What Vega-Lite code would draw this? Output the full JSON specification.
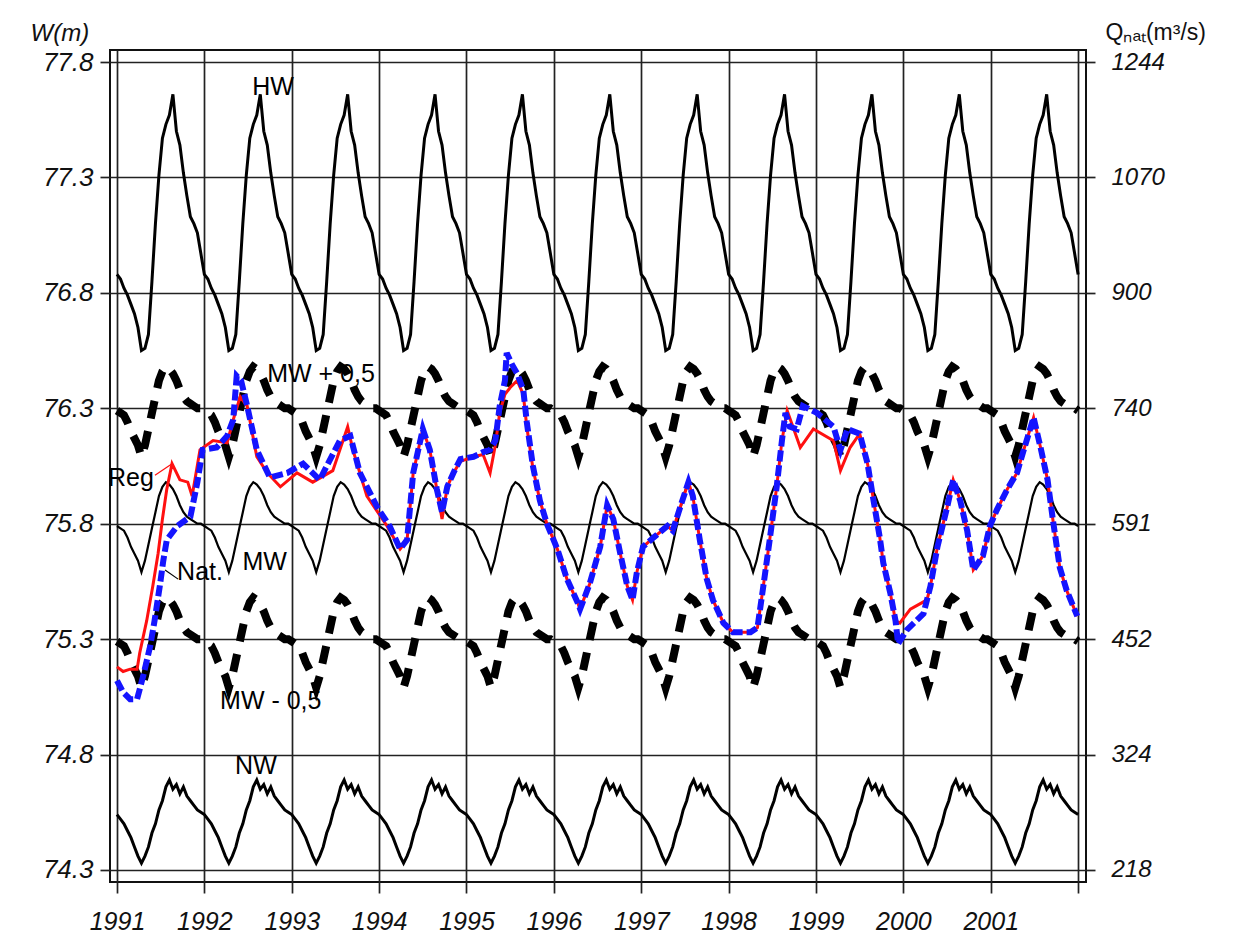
{
"$schema": "https://vega.github.io/schema/vega-lite/v6.json",
"width": 976, "height": 832,
"autosize": {"type": "none"},
"padding": {"left": 110, "top": 50, "right": 165, "bottom": 65},
"background": "white",
"config": {"view": {"stroke": "#111", "strokeWidth": 2}, "font": "Liberation Sans"},
"datasets": {
"per": [
{"t":1991,"HW":76.88,"MW":75.79,"NW":74.54,"MWp":76.29,"MWm":75.29},
{"t":1991.04,"HW":76.86,"MW":75.78,"NW":74.52,"MWp":76.28,"MWm":75.28},
{"t":1991.08,"HW":76.82,"MW":75.77,"NW":74.5,"MWp":76.27,"MWm":75.27},
{"t":1991.12,"HW":76.79,"MW":75.74,"NW":74.47,"MWp":76.24,"MWm":75.24},
{"t":1991.16,"HW":76.75,"MW":75.7,"NW":74.44,"MWp":76.2,"MWm":75.2},
{"t":1991.2,"HW":76.71,"MW":75.67,"NW":74.4,"MWp":76.17,"MWm":75.17},
{"t":1991.24,"HW":76.65,"MW":75.64,"NW":74.36,"MWp":76.14,"MWm":75.14},
{"t":1991.28,"HW":76.55,"MW":75.59,"NW":74.33,"MWp":76.09,"MWm":75.09},
{"t":1991.32,"HW":76.56,"MW":75.64,"NW":74.36,"MWp":76.14,"MWm":75.14},
{"t":1991.36,"HW":76.62,"MW":75.71,"NW":74.4,"MWp":76.21,"MWm":75.21},
{"t":1991.4,"HW":76.85,"MW":75.78,"NW":74.46,"MWp":76.28,"MWm":75.28},
{"t":1991.44,"HW":77.1,"MW":75.85,"NW":74.5,"MWp":76.35,"MWm":75.35},
{"t":1991.48,"HW":77.31,"MW":75.92,"NW":74.56,"MWp":76.42,"MWm":75.42},
{"t":1991.52,"HW":77.47,"MW":75.96,"NW":74.6,"MWp":76.46,"MWm":75.46},
{"t":1991.56,"HW":77.53,"MW":75.98,"NW":74.66,"MWp":76.48,"MWm":75.48},
{"t":1991.6,"HW":77.57,"MW":75.97,"NW":74.69,"MWp":76.47,"MWm":75.47},
{"t":1991.64,"HW":77.66,"MW":75.95,"NW":74.65,"MWp":76.45,"MWm":75.45},
{"t":1991.68,"HW":77.5,"MW":75.92,"NW":74.67,"MWp":76.42,"MWm":75.42},
{"t":1991.72,"HW":77.44,"MW":75.88,"NW":74.63,"MWp":76.38,"MWm":75.38},
{"t":1991.76,"HW":77.32,"MW":75.85,"NW":74.66,"MWp":76.35,"MWm":75.35},
{"t":1991.8,"HW":77.22,"MW":75.83,"NW":74.62,"MWp":76.33,"MWm":75.33},
{"t":1991.84,"HW":77.13,"MW":75.82,"NW":74.6,"MWp":76.32,"MWm":75.32},
{"t":1991.88,"HW":77.1,"MW":75.81,"NW":74.58,"MWp":76.31,"MWm":75.31},
{"t":1991.92,"HW":77.06,"MW":75.8,"NW":74.56,"MWp":76.3,"MWm":75.3},
{"t":1991.96,"HW":76.97,"MW":75.8,"NW":74.55,"MWp":76.3,"MWm":75.3},
{"t":1992,"HW":76.88,"MW":75.79,"NW":74.54,"MWp":76.29,"MWm":75.29},
{"t":1992.04,"HW":76.86,"MW":75.78,"NW":74.52,"MWp":76.28,"MWm":75.28},
{"t":1992.08,"HW":76.82,"MW":75.77,"NW":74.5,"MWp":76.27,"MWm":75.27},
{"t":1992.12,"HW":76.79,"MW":75.74,"NW":74.47,"MWp":76.24,"MWm":75.24},
{"t":1992.16,"HW":76.75,"MW":75.7,"NW":74.44,"MWp":76.2,"MWm":75.2},
{"t":1992.2,"HW":76.71,"MW":75.67,"NW":74.4,"MWp":76.17,"MWm":75.17},
{"t":1992.24,"HW":76.65,"MW":75.64,"NW":74.36,"MWp":76.14,"MWm":75.14},
{"t":1992.28,"HW":76.55,"MW":75.59,"NW":74.33,"MWp":76.09,"MWm":75.09},
{"t":1992.32,"HW":76.56,"MW":75.64,"NW":74.36,"MWp":76.14,"MWm":75.14},
{"t":1992.36,"HW":76.62,"MW":75.71,"NW":74.4,"MWp":76.21,"MWm":75.21},
{"t":1992.4,"HW":76.85,"MW":75.78,"NW":74.46,"MWp":76.28,"MWm":75.28},
{"t":1992.44,"HW":77.1,"MW":75.85,"NW":74.5,"MWp":76.35,"MWm":75.35},
{"t":1992.48,"HW":77.31,"MW":75.92,"NW":74.56,"MWp":76.42,"MWm":75.42},
{"t":1992.52,"HW":77.47,"MW":75.96,"NW":74.6,"MWp":76.46,"MWm":75.46},
{"t":1992.56,"HW":77.53,"MW":75.98,"NW":74.66,"MWp":76.48,"MWm":75.48},
{"t":1992.6,"HW":77.57,"MW":75.97,"NW":74.69,"MWp":76.47,"MWm":75.47},
{"t":1992.64,"HW":77.66,"MW":75.95,"NW":74.65,"MWp":76.45,"MWm":75.45},
{"t":1992.68,"HW":77.5,"MW":75.92,"NW":74.67,"MWp":76.42,"MWm":75.42},
{"t":1992.72,"HW":77.44,"MW":75.88,"NW":74.63,"MWp":76.38,"MWm":75.38},
{"t":1992.76,"HW":77.32,"MW":75.85,"NW":74.66,"MWp":76.35,"MWm":75.35},
{"t":1992.8,"HW":77.22,"MW":75.83,"NW":74.62,"MWp":76.33,"MWm":75.33},
{"t":1992.84,"HW":77.13,"MW":75.82,"NW":74.6,"MWp":76.32,"MWm":75.32},
{"t":1992.88,"HW":77.1,"MW":75.81,"NW":74.58,"MWp":76.31,"MWm":75.31},
{"t":1992.92,"HW":77.06,"MW":75.8,"NW":74.56,"MWp":76.3,"MWm":75.3},
{"t":1992.96,"HW":76.97,"MW":75.8,"NW":74.55,"MWp":76.3,"MWm":75.3},
{"t":1993,"HW":76.88,"MW":75.79,"NW":74.54,"MWp":76.29,"MWm":75.29},
{"t":1993.04,"HW":76.86,"MW":75.78,"NW":74.52,"MWp":76.28,"MWm":75.28},
{"t":1993.08,"HW":76.82,"MW":75.77,"NW":74.5,"MWp":76.27,"MWm":75.27},
{"t":1993.12,"HW":76.79,"MW":75.74,"NW":74.47,"MWp":76.24,"MWm":75.24},
{"t":1993.16,"HW":76.75,"MW":75.7,"NW":74.44,"MWp":76.2,"MWm":75.2},
{"t":1993.2,"HW":76.71,"MW":75.67,"NW":74.4,"MWp":76.17,"MWm":75.17},
{"t":1993.24,"HW":76.65,"MW":75.64,"NW":74.36,"MWp":76.14,"MWm":75.14},
{"t":1993.28,"HW":76.55,"MW":75.59,"NW":74.33,"MWp":76.09,"MWm":75.09},
{"t":1993.32,"HW":76.56,"MW":75.64,"NW":74.36,"MWp":76.14,"MWm":75.14},
{"t":1993.36,"HW":76.62,"MW":75.71,"NW":74.4,"MWp":76.21,"MWm":75.21},
{"t":1993.4,"HW":76.85,"MW":75.78,"NW":74.46,"MWp":76.28,"MWm":75.28},
{"t":1993.44,"HW":77.1,"MW":75.85,"NW":74.5,"MWp":76.35,"MWm":75.35},
{"t":1993.48,"HW":77.31,"MW":75.92,"NW":74.56,"MWp":76.42,"MWm":75.42},
{"t":1993.52,"HW":77.47,"MW":75.96,"NW":74.6,"MWp":76.46,"MWm":75.46},
{"t":1993.56,"HW":77.53,"MW":75.98,"NW":74.66,"MWp":76.48,"MWm":75.48},
{"t":1993.6,"HW":77.57,"MW":75.97,"NW":74.69,"MWp":76.47,"MWm":75.47},
{"t":1993.64,"HW":77.66,"MW":75.95,"NW":74.65,"MWp":76.45,"MWm":75.45},
{"t":1993.68,"HW":77.5,"MW":75.92,"NW":74.67,"MWp":76.42,"MWm":75.42},
{"t":1993.72,"HW":77.44,"MW":75.88,"NW":74.63,"MWp":76.38,"MWm":75.38},
{"t":1993.76,"HW":77.32,"MW":75.85,"NW":74.66,"MWp":76.35,"MWm":75.35},
{"t":1993.8,"HW":77.22,"MW":75.83,"NW":74.62,"MWp":76.33,"MWm":75.33},
{"t":1993.84,"HW":77.13,"MW":75.82,"NW":74.6,"MWp":76.32,"MWm":75.32},
{"t":1993.88,"HW":77.1,"MW":75.81,"NW":74.58,"MWp":76.31,"MWm":75.31},
{"t":1993.92,"HW":77.06,"MW":75.8,"NW":74.56,"MWp":76.3,"MWm":75.3},
{"t":1993.96,"HW":76.97,"MW":75.8,"NW":74.55,"MWp":76.3,"MWm":75.3},
{"t":1994,"HW":76.88,"MW":75.79,"NW":74.54,"MWp":76.29,"MWm":75.29},
{"t":1994.04,"HW":76.86,"MW":75.78,"NW":74.52,"MWp":76.28,"MWm":75.28},
{"t":1994.08,"HW":76.82,"MW":75.77,"NW":74.5,"MWp":76.27,"MWm":75.27},
{"t":1994.12,"HW":76.79,"MW":75.74,"NW":74.47,"MWp":76.24,"MWm":75.24},
{"t":1994.16,"HW":76.75,"MW":75.7,"NW":74.44,"MWp":76.2,"MWm":75.2},
{"t":1994.2,"HW":76.71,"MW":75.67,"NW":74.4,"MWp":76.17,"MWm":75.17},
{"t":1994.24,"HW":76.65,"MW":75.64,"NW":74.36,"MWp":76.14,"MWm":75.14},
{"t":1994.28,"HW":76.55,"MW":75.59,"NW":74.33,"MWp":76.09,"MWm":75.09},
{"t":1994.32,"HW":76.56,"MW":75.64,"NW":74.36,"MWp":76.14,"MWm":75.14},
{"t":1994.36,"HW":76.62,"MW":75.71,"NW":74.4,"MWp":76.21,"MWm":75.21},
{"t":1994.4,"HW":76.85,"MW":75.78,"NW":74.46,"MWp":76.28,"MWm":75.28},
{"t":1994.44,"HW":77.1,"MW":75.85,"NW":74.5,"MWp":76.35,"MWm":75.35},
{"t":1994.48,"HW":77.31,"MW":75.92,"NW":74.56,"MWp":76.42,"MWm":75.42},
{"t":1994.52,"HW":77.47,"MW":75.96,"NW":74.6,"MWp":76.46,"MWm":75.46},
{"t":1994.56,"HW":77.53,"MW":75.98,"NW":74.66,"MWp":76.48,"MWm":75.48},
{"t":1994.6,"HW":77.57,"MW":75.97,"NW":74.69,"MWp":76.47,"MWm":75.47},
{"t":1994.64,"HW":77.66,"MW":75.95,"NW":74.65,"MWp":76.45,"MWm":75.45},
{"t":1994.68,"HW":77.5,"MW":75.92,"NW":74.67,"MWp":76.42,"MWm":75.42},
{"t":1994.72,"HW":77.44,"MW":75.88,"NW":74.63,"MWp":76.38,"MWm":75.38},
{"t":1994.76,"HW":77.32,"MW":75.85,"NW":74.66,"MWp":76.35,"MWm":75.35},
{"t":1994.8,"HW":77.22,"MW":75.83,"NW":74.62,"MWp":76.33,"MWm":75.33},
{"t":1994.84,"HW":77.13,"MW":75.82,"NW":74.6,"MWp":76.32,"MWm":75.32},
{"t":1994.88,"HW":77.1,"MW":75.81,"NW":74.58,"MWp":76.31,"MWm":75.31},
{"t":1994.92,"HW":77.06,"MW":75.8,"NW":74.56,"MWp":76.3,"MWm":75.3},
{"t":1994.96,"HW":76.97,"MW":75.8,"NW":74.55,"MWp":76.3,"MWm":75.3},
{"t":1995,"HW":76.88,"MW":75.79,"NW":74.54,"MWp":76.29,"MWm":75.29},
{"t":1995.04,"HW":76.86,"MW":75.78,"NW":74.52,"MWp":76.28,"MWm":75.28},
{"t":1995.08,"HW":76.82,"MW":75.77,"NW":74.5,"MWp":76.27,"MWm":75.27},
{"t":1995.12,"HW":76.79,"MW":75.74,"NW":74.47,"MWp":76.24,"MWm":75.24},
{"t":1995.16,"HW":76.75,"MW":75.7,"NW":74.44,"MWp":76.2,"MWm":75.2},
{"t":1995.2,"HW":76.71,"MW":75.67,"NW":74.4,"MWp":76.17,"MWm":75.17},
{"t":1995.24,"HW":76.65,"MW":75.64,"NW":74.36,"MWp":76.14,"MWm":75.14},
{"t":1995.28,"HW":76.55,"MW":75.59,"NW":74.33,"MWp":76.09,"MWm":75.09},
{"t":1995.32,"HW":76.56,"MW":75.64,"NW":74.36,"MWp":76.14,"MWm":75.14},
{"t":1995.36,"HW":76.62,"MW":75.71,"NW":74.4,"MWp":76.21,"MWm":75.21},
{"t":1995.4,"HW":76.85,"MW":75.78,"NW":74.46,"MWp":76.28,"MWm":75.28},
{"t":1995.44,"HW":77.1,"MW":75.85,"NW":74.5,"MWp":76.35,"MWm":75.35},
{"t":1995.48,"HW":77.31,"MW":75.92,"NW":74.56,"MWp":76.42,"MWm":75.42},
{"t":1995.52,"HW":77.47,"MW":75.96,"NW":74.6,"MWp":76.46,"MWm":75.46},
{"t":1995.56,"HW":77.53,"MW":75.98,"NW":74.66,"MWp":76.48,"MWm":75.48},
{"t":1995.6,"HW":77.57,"MW":75.97,"NW":74.69,"MWp":76.47,"MWm":75.47},
{"t":1995.64,"HW":77.66,"MW":75.95,"NW":74.65,"MWp":76.45,"MWm":75.45},
{"t":1995.68,"HW":77.5,"MW":75.92,"NW":74.67,"MWp":76.42,"MWm":75.42},
{"t":1995.72,"HW":77.44,"MW":75.88,"NW":74.63,"MWp":76.38,"MWm":75.38},
{"t":1995.76,"HW":77.32,"MW":75.85,"NW":74.66,"MWp":76.35,"MWm":75.35},
{"t":1995.8,"HW":77.22,"MW":75.83,"NW":74.62,"MWp":76.33,"MWm":75.33},
{"t":1995.84,"HW":77.13,"MW":75.82,"NW":74.6,"MWp":76.32,"MWm":75.32},
{"t":1995.88,"HW":77.1,"MW":75.81,"NW":74.58,"MWp":76.31,"MWm":75.31},
{"t":1995.92,"HW":77.06,"MW":75.8,"NW":74.56,"MWp":76.3,"MWm":75.3},
{"t":1995.96,"HW":76.97,"MW":75.8,"NW":74.55,"MWp":76.3,"MWm":75.3},
{"t":1996,"HW":76.88,"MW":75.79,"NW":74.54,"MWp":76.29,"MWm":75.29},
{"t":1996.04,"HW":76.86,"MW":75.78,"NW":74.52,"MWp":76.28,"MWm":75.28},
{"t":1996.08,"HW":76.82,"MW":75.77,"NW":74.5,"MWp":76.27,"MWm":75.27},
{"t":1996.12,"HW":76.79,"MW":75.74,"NW":74.47,"MWp":76.24,"MWm":75.24},
{"t":1996.16,"HW":76.75,"MW":75.7,"NW":74.44,"MWp":76.2,"MWm":75.2},
{"t":1996.2,"HW":76.71,"MW":75.67,"NW":74.4,"MWp":76.17,"MWm":75.17},
{"t":1996.24,"HW":76.65,"MW":75.64,"NW":74.36,"MWp":76.14,"MWm":75.14},
{"t":1996.28,"HW":76.55,"MW":75.59,"NW":74.33,"MWp":76.09,"MWm":75.09},
{"t":1996.32,"HW":76.56,"MW":75.64,"NW":74.36,"MWp":76.14,"MWm":75.14},
{"t":1996.36,"HW":76.62,"MW":75.71,"NW":74.4,"MWp":76.21,"MWm":75.21},
{"t":1996.4,"HW":76.85,"MW":75.78,"NW":74.46,"MWp":76.28,"MWm":75.28},
{"t":1996.44,"HW":77.1,"MW":75.85,"NW":74.5,"MWp":76.35,"MWm":75.35},
{"t":1996.48,"HW":77.31,"MW":75.92,"NW":74.56,"MWp":76.42,"MWm":75.42},
{"t":1996.52,"HW":77.47,"MW":75.96,"NW":74.6,"MWp":76.46,"MWm":75.46},
{"t":1996.56,"HW":77.53,"MW":75.98,"NW":74.66,"MWp":76.48,"MWm":75.48},
{"t":1996.6,"HW":77.57,"MW":75.97,"NW":74.69,"MWp":76.47,"MWm":75.47},
{"t":1996.64,"HW":77.66,"MW":75.95,"NW":74.65,"MWp":76.45,"MWm":75.45},
{"t":1996.68,"HW":77.5,"MW":75.92,"NW":74.67,"MWp":76.42,"MWm":75.42},
{"t":1996.72,"HW":77.44,"MW":75.88,"NW":74.63,"MWp":76.38,"MWm":75.38},
{"t":1996.76,"HW":77.32,"MW":75.85,"NW":74.66,"MWp":76.35,"MWm":75.35},
{"t":1996.8,"HW":77.22,"MW":75.83,"NW":74.62,"MWp":76.33,"MWm":75.33},
{"t":1996.84,"HW":77.13,"MW":75.82,"NW":74.6,"MWp":76.32,"MWm":75.32},
{"t":1996.88,"HW":77.1,"MW":75.81,"NW":74.58,"MWp":76.31,"MWm":75.31},
{"t":1996.92,"HW":77.06,"MW":75.8,"NW":74.56,"MWp":76.3,"MWm":75.3},
{"t":1996.96,"HW":76.97,"MW":75.8,"NW":74.55,"MWp":76.3,"MWm":75.3},
{"t":1997,"HW":76.88,"MW":75.79,"NW":74.54,"MWp":76.29,"MWm":75.29},
{"t":1997.04,"HW":76.86,"MW":75.78,"NW":74.52,"MWp":76.28,"MWm":75.28},
{"t":1997.08,"HW":76.82,"MW":75.77,"NW":74.5,"MWp":76.27,"MWm":75.27},
{"t":1997.12,"HW":76.79,"MW":75.74,"NW":74.47,"MWp":76.24,"MWm":75.24},
{"t":1997.16,"HW":76.75,"MW":75.7,"NW":74.44,"MWp":76.2,"MWm":75.2},
{"t":1997.2,"HW":76.71,"MW":75.67,"NW":74.4,"MWp":76.17,"MWm":75.17},
{"t":1997.24,"HW":76.65,"MW":75.64,"NW":74.36,"MWp":76.14,"MWm":75.14},
{"t":1997.28,"HW":76.55,"MW":75.59,"NW":74.33,"MWp":76.09,"MWm":75.09},
{"t":1997.32,"HW":76.56,"MW":75.64,"NW":74.36,"MWp":76.14,"MWm":75.14},
{"t":1997.36,"HW":76.62,"MW":75.71,"NW":74.4,"MWp":76.21,"MWm":75.21},
{"t":1997.4,"HW":76.85,"MW":75.78,"NW":74.46,"MWp":76.28,"MWm":75.28},
{"t":1997.44,"HW":77.1,"MW":75.85,"NW":74.5,"MWp":76.35,"MWm":75.35},
{"t":1997.48,"HW":77.31,"MW":75.92,"NW":74.56,"MWp":76.42,"MWm":75.42},
{"t":1997.52,"HW":77.47,"MW":75.96,"NW":74.6,"MWp":76.46,"MWm":75.46},
{"t":1997.56,"HW":77.53,"MW":75.98,"NW":74.66,"MWp":76.48,"MWm":75.48},
{"t":1997.6,"HW":77.57,"MW":75.97,"NW":74.69,"MWp":76.47,"MWm":75.47},
{"t":1997.64,"HW":77.66,"MW":75.95,"NW":74.65,"MWp":76.45,"MWm":75.45},
{"t":1997.68,"HW":77.5,"MW":75.92,"NW":74.67,"MWp":76.42,"MWm":75.42},
{"t":1997.72,"HW":77.44,"MW":75.88,"NW":74.63,"MWp":76.38,"MWm":75.38},
{"t":1997.76,"HW":77.32,"MW":75.85,"NW":74.66,"MWp":76.35,"MWm":75.35},
{"t":1997.8,"HW":77.22,"MW":75.83,"NW":74.62,"MWp":76.33,"MWm":75.33},
{"t":1997.84,"HW":77.13,"MW":75.82,"NW":74.6,"MWp":76.32,"MWm":75.32},
{"t":1997.88,"HW":77.1,"MW":75.81,"NW":74.58,"MWp":76.31,"MWm":75.31},
{"t":1997.92,"HW":77.06,"MW":75.8,"NW":74.56,"MWp":76.3,"MWm":75.3},
{"t":1997.96,"HW":76.97,"MW":75.8,"NW":74.55,"MWp":76.3,"MWm":75.3},
{"t":1998,"HW":76.88,"MW":75.79,"NW":74.54,"MWp":76.29,"MWm":75.29},
{"t":1998.04,"HW":76.86,"MW":75.78,"NW":74.52,"MWp":76.28,"MWm":75.28},
{"t":1998.08,"HW":76.82,"MW":75.77,"NW":74.5,"MWp":76.27,"MWm":75.27},
{"t":1998.12,"HW":76.79,"MW":75.74,"NW":74.47,"MWp":76.24,"MWm":75.24},
{"t":1998.16,"HW":76.75,"MW":75.7,"NW":74.44,"MWp":76.2,"MWm":75.2},
{"t":1998.2,"HW":76.71,"MW":75.67,"NW":74.4,"MWp":76.17,"MWm":75.17},
{"t":1998.24,"HW":76.65,"MW":75.64,"NW":74.36,"MWp":76.14,"MWm":75.14},
{"t":1998.28,"HW":76.55,"MW":75.59,"NW":74.33,"MWp":76.09,"MWm":75.09},
{"t":1998.32,"HW":76.56,"MW":75.64,"NW":74.36,"MWp":76.14,"MWm":75.14},
{"t":1998.36,"HW":76.62,"MW":75.71,"NW":74.4,"MWp":76.21,"MWm":75.21},
{"t":1998.4,"HW":76.85,"MW":75.78,"NW":74.46,"MWp":76.28,"MWm":75.28},
{"t":1998.44,"HW":77.1,"MW":75.85,"NW":74.5,"MWp":76.35,"MWm":75.35},
{"t":1998.48,"HW":77.31,"MW":75.92,"NW":74.56,"MWp":76.42,"MWm":75.42},
{"t":1998.52,"HW":77.47,"MW":75.96,"NW":74.6,"MWp":76.46,"MWm":75.46},
{"t":1998.56,"HW":77.53,"MW":75.98,"NW":74.66,"MWp":76.48,"MWm":75.48},
{"t":1998.6,"HW":77.57,"MW":75.97,"NW":74.69,"MWp":76.47,"MWm":75.47},
{"t":1998.64,"HW":77.66,"MW":75.95,"NW":74.65,"MWp":76.45,"MWm":75.45},
{"t":1998.68,"HW":77.5,"MW":75.92,"NW":74.67,"MWp":76.42,"MWm":75.42},
{"t":1998.72,"HW":77.44,"MW":75.88,"NW":74.63,"MWp":76.38,"MWm":75.38},
{"t":1998.76,"HW":77.32,"MW":75.85,"NW":74.66,"MWp":76.35,"MWm":75.35},
{"t":1998.8,"HW":77.22,"MW":75.83,"NW":74.62,"MWp":76.33,"MWm":75.33},
{"t":1998.84,"HW":77.13,"MW":75.82,"NW":74.6,"MWp":76.32,"MWm":75.32},
{"t":1998.88,"HW":77.1,"MW":75.81,"NW":74.58,"MWp":76.31,"MWm":75.31},
{"t":1998.92,"HW":77.06,"MW":75.8,"NW":74.56,"MWp":76.3,"MWm":75.3},
{"t":1998.96,"HW":76.97,"MW":75.8,"NW":74.55,"MWp":76.3,"MWm":75.3},
{"t":1999,"HW":76.88,"MW":75.79,"NW":74.54,"MWp":76.29,"MWm":75.29},
{"t":1999.04,"HW":76.86,"MW":75.78,"NW":74.52,"MWp":76.28,"MWm":75.28},
{"t":1999.08,"HW":76.82,"MW":75.77,"NW":74.5,"MWp":76.27,"MWm":75.27},
{"t":1999.12,"HW":76.79,"MW":75.74,"NW":74.47,"MWp":76.24,"MWm":75.24},
{"t":1999.16,"HW":76.75,"MW":75.7,"NW":74.44,"MWp":76.2,"MWm":75.2},
{"t":1999.2,"HW":76.71,"MW":75.67,"NW":74.4,"MWp":76.17,"MWm":75.17},
{"t":1999.24,"HW":76.65,"MW":75.64,"NW":74.36,"MWp":76.14,"MWm":75.14},
{"t":1999.28,"HW":76.55,"MW":75.59,"NW":74.33,"MWp":76.09,"MWm":75.09},
{"t":1999.32,"HW":76.56,"MW":75.64,"NW":74.36,"MWp":76.14,"MWm":75.14},
{"t":1999.36,"HW":76.62,"MW":75.71,"NW":74.4,"MWp":76.21,"MWm":75.21},
{"t":1999.4,"HW":76.85,"MW":75.78,"NW":74.46,"MWp":76.28,"MWm":75.28},
{"t":1999.44,"HW":77.1,"MW":75.85,"NW":74.5,"MWp":76.35,"MWm":75.35},
{"t":1999.48,"HW":77.31,"MW":75.92,"NW":74.56,"MWp":76.42,"MWm":75.42},
{"t":1999.52,"HW":77.47,"MW":75.96,"NW":74.6,"MWp":76.46,"MWm":75.46},
{"t":1999.56,"HW":77.53,"MW":75.98,"NW":74.66,"MWp":76.48,"MWm":75.48},
{"t":1999.6,"HW":77.57,"MW":75.97,"NW":74.69,"MWp":76.47,"MWm":75.47},
{"t":1999.64,"HW":77.66,"MW":75.95,"NW":74.65,"MWp":76.45,"MWm":75.45},
{"t":1999.68,"HW":77.5,"MW":75.92,"NW":74.67,"MWp":76.42,"MWm":75.42},
{"t":1999.72,"HW":77.44,"MW":75.88,"NW":74.63,"MWp":76.38,"MWm":75.38},
{"t":1999.76,"HW":77.32,"MW":75.85,"NW":74.66,"MWp":76.35,"MWm":75.35},
{"t":1999.8,"HW":77.22,"MW":75.83,"NW":74.62,"MWp":76.33,"MWm":75.33},
{"t":1999.84,"HW":77.13,"MW":75.82,"NW":74.6,"MWp":76.32,"MWm":75.32},
{"t":1999.88,"HW":77.1,"MW":75.81,"NW":74.58,"MWp":76.31,"MWm":75.31},
{"t":1999.92,"HW":77.06,"MW":75.8,"NW":74.56,"MWp":76.3,"MWm":75.3},
{"t":1999.96,"HW":76.97,"MW":75.8,"NW":74.55,"MWp":76.3,"MWm":75.3},
{"t":2000,"HW":76.88,"MW":75.79,"NW":74.54,"MWp":76.29,"MWm":75.29},
{"t":2000.04,"HW":76.86,"MW":75.78,"NW":74.52,"MWp":76.28,"MWm":75.28},
{"t":2000.08,"HW":76.82,"MW":75.77,"NW":74.5,"MWp":76.27,"MWm":75.27},
{"t":2000.12,"HW":76.79,"MW":75.74,"NW":74.47,"MWp":76.24,"MWm":75.24},
{"t":2000.16,"HW":76.75,"MW":75.7,"NW":74.44,"MWp":76.2,"MWm":75.2},
{"t":2000.2,"HW":76.71,"MW":75.67,"NW":74.4,"MWp":76.17,"MWm":75.17},
{"t":2000.24,"HW":76.65,"MW":75.64,"NW":74.36,"MWp":76.14,"MWm":75.14},
{"t":2000.28,"HW":76.55,"MW":75.59,"NW":74.33,"MWp":76.09,"MWm":75.09},
{"t":2000.32,"HW":76.56,"MW":75.64,"NW":74.36,"MWp":76.14,"MWm":75.14},
{"t":2000.36,"HW":76.62,"MW":75.71,"NW":74.4,"MWp":76.21,"MWm":75.21},
{"t":2000.4,"HW":76.85,"MW":75.78,"NW":74.46,"MWp":76.28,"MWm":75.28},
{"t":2000.44,"HW":77.1,"MW":75.85,"NW":74.5,"MWp":76.35,"MWm":75.35},
{"t":2000.48,"HW":77.31,"MW":75.92,"NW":74.56,"MWp":76.42,"MWm":75.42},
{"t":2000.52,"HW":77.47,"MW":75.96,"NW":74.6,"MWp":76.46,"MWm":75.46},
{"t":2000.56,"HW":77.53,"MW":75.98,"NW":74.66,"MWp":76.48,"MWm":75.48},
{"t":2000.6,"HW":77.57,"MW":75.97,"NW":74.69,"MWp":76.47,"MWm":75.47},
{"t":2000.64,"HW":77.66,"MW":75.95,"NW":74.65,"MWp":76.45,"MWm":75.45},
{"t":2000.68,"HW":77.5,"MW":75.92,"NW":74.67,"MWp":76.42,"MWm":75.42},
{"t":2000.72,"HW":77.44,"MW":75.88,"NW":74.63,"MWp":76.38,"MWm":75.38},
{"t":2000.76,"HW":77.32,"MW":75.85,"NW":74.66,"MWp":76.35,"MWm":75.35},
{"t":2000.8,"HW":77.22,"MW":75.83,"NW":74.62,"MWp":76.33,"MWm":75.33},
{"t":2000.84,"HW":77.13,"MW":75.82,"NW":74.6,"MWp":76.32,"MWm":75.32},
{"t":2000.88,"HW":77.1,"MW":75.81,"NW":74.58,"MWp":76.31,"MWm":75.31},
{"t":2000.92,"HW":77.06,"MW":75.8,"NW":74.56,"MWp":76.3,"MWm":75.3},
{"t":2000.96,"HW":76.97,"MW":75.8,"NW":74.55,"MWp":76.3,"MWm":75.3},
{"t":2001,"HW":76.88,"MW":75.79,"NW":74.54,"MWp":76.29,"MWm":75.29},
{"t":2001.04,"HW":76.86,"MW":75.78,"NW":74.52,"MWp":76.28,"MWm":75.28},
{"t":2001.08,"HW":76.82,"MW":75.77,"NW":74.5,"MWp":76.27,"MWm":75.27},
{"t":2001.12,"HW":76.79,"MW":75.74,"NW":74.47,"MWp":76.24,"MWm":75.24},
{"t":2001.16,"HW":76.75,"MW":75.7,"NW":74.44,"MWp":76.2,"MWm":75.2},
{"t":2001.2,"HW":76.71,"MW":75.67,"NW":74.4,"MWp":76.17,"MWm":75.17},
{"t":2001.24,"HW":76.65,"MW":75.64,"NW":74.36,"MWp":76.14,"MWm":75.14},
{"t":2001.28,"HW":76.55,"MW":75.59,"NW":74.33,"MWp":76.09,"MWm":75.09},
{"t":2001.32,"HW":76.56,"MW":75.64,"NW":74.36,"MWp":76.14,"MWm":75.14},
{"t":2001.36,"HW":76.62,"MW":75.71,"NW":74.4,"MWp":76.21,"MWm":75.21},
{"t":2001.4,"HW":76.85,"MW":75.78,"NW":74.46,"MWp":76.28,"MWm":75.28},
{"t":2001.44,"HW":77.1,"MW":75.85,"NW":74.5,"MWp":76.35,"MWm":75.35},
{"t":2001.48,"HW":77.31,"MW":75.92,"NW":74.56,"MWp":76.42,"MWm":75.42},
{"t":2001.52,"HW":77.47,"MW":75.96,"NW":74.6,"MWp":76.46,"MWm":75.46},
{"t":2001.56,"HW":77.53,"MW":75.98,"NW":74.66,"MWp":76.48,"MWm":75.48},
{"t":2001.6,"HW":77.57,"MW":75.97,"NW":74.69,"MWp":76.47,"MWm":75.47},
{"t":2001.64,"HW":77.66,"MW":75.95,"NW":74.65,"MWp":76.45,"MWm":75.45},
{"t":2001.68,"HW":77.5,"MW":75.92,"NW":74.67,"MWp":76.42,"MWm":75.42},
{"t":2001.72,"HW":77.44,"MW":75.88,"NW":74.63,"MWp":76.38,"MWm":75.38},
{"t":2001.76,"HW":77.32,"MW":75.85,"NW":74.66,"MWp":76.35,"MWm":75.35},
{"t":2001.8,"HW":77.22,"MW":75.83,"NW":74.62,"MWp":76.33,"MWm":75.33},
{"t":2001.84,"HW":77.13,"MW":75.82,"NW":74.6,"MWp":76.32,"MWm":75.32},
{"t":2001.88,"HW":77.1,"MW":75.81,"NW":74.58,"MWp":76.31,"MWm":75.31},
{"t":2001.92,"HW":77.06,"MW":75.8,"NW":74.56,"MWp":76.3,"MWm":75.3},
{"t":2001.96,"HW":76.97,"MW":75.8,"NW":74.55,"MWp":76.3,"MWm":75.3},
{"t":2002,"HW":76.88,"MW":75.79,"NW":74.54,"MWp":76.29,"MWm":75.29}
],
"obs": [
{"s":"Reg","t":1991,"w":75.18},{"s":"Reg","t":1991.07,"w":75.16},{"s":"Reg","t":1991.15,"w":75.17},{"s":"Reg","t":1991.23,"w":75.17},
{"s":"Reg","t":1991.26,"w":75.24},{"s":"Reg","t":1991.34,"w":75.38},{"s":"Reg","t":1991.41,"w":75.53},{"s":"Reg","t":1991.47,"w":75.67},
{"s":"Reg","t":1991.52,"w":75.82},{"s":"Reg","t":1991.57,"w":75.95},{"s":"Reg","t":1991.63,"w":76.06},{"s":"Reg","t":1991.72,"w":75.99},
{"s":"Reg","t":1991.81,"w":75.98},{"s":"Reg","t":1991.86,"w":75.92},{"s":"Reg","t":1991.95,"w":76.12},{"s":"Reg","t":1992.1,"w":76.16},
{"s":"Reg","t":1992.26,"w":76.15},{"s":"Reg","t":1992.33,"w":76.25},{"s":"Reg","t":1992.41,"w":76.35},{"s":"Reg","t":1992.49,"w":76.31},
{"s":"Reg","t":1992.6,"w":76.09},{"s":"Reg","t":1992.72,"w":76.02},{"s":"Reg","t":1992.87,"w":75.96},{"s":"Reg","t":1993.06,"w":76.02},
{"s":"Reg","t":1993.24,"w":75.98},{"s":"Reg","t":1993.47,"w":76.03},{"s":"Reg","t":1993.64,"w":76.22},{"s":"Reg","t":1993.7,"w":76.12},
{"s":"Reg","t":1993.86,"w":75.92},{"s":"Reg","t":1994.09,"w":75.79},{"s":"Reg","t":1994.24,"w":75.69},{"s":"Reg","t":1994.32,"w":75.73},
{"s":"Reg","t":1994.39,"w":76.02},{"s":"Reg","t":1994.5,"w":76.21},{"s":"Reg","t":1994.58,"w":76.12},{"s":"Reg","t":1994.66,"w":75.95},
{"s":"Reg","t":1994.72,"w":75.82},{"s":"Reg","t":1994.78,"w":75.96},{"s":"Reg","t":1994.85,"w":76.02},{"s":"Reg","t":1994.93,"w":76.07},
{"s":"Reg","t":1995.08,"w":76.09},{"s":"Reg","t":1995.19,"w":76.1},{"s":"Reg","t":1995.27,"w":76.02},{"s":"Reg","t":1995.33,"w":76.14},
{"s":"Reg","t":1995.38,"w":76.28},{"s":"Reg","t":1995.44,"w":76.36},{"s":"Reg","t":1995.5,"w":76.39},{"s":"Reg","t":1995.58,"w":76.42},
{"s":"Reg","t":1995.65,"w":76.36},{"s":"Reg","t":1995.69,"w":76.22},{"s":"Reg","t":1995.76,"w":76.04},{"s":"Reg","t":1995.84,"w":75.9},
{"s":"Reg","t":1995.92,"w":75.8},{"s":"Reg","t":1996.04,"w":75.69},{"s":"Reg","t":1996.15,"w":75.56},{"s":"Reg","t":1996.27,"w":75.46},
{"s":"Reg","t":1996.3,"w":75.43},{"s":"Reg","t":1996.41,"w":75.54},{"s":"Reg","t":1996.53,"w":75.7},{"s":"Reg","t":1996.61,"w":75.88},
{"s":"Reg","t":1996.68,"w":75.82},{"s":"Reg","t":1996.76,"w":75.67},{"s":"Reg","t":1996.84,"w":75.53},{"s":"Reg","t":1996.9,"w":75.47},
{"s":"Reg","t":1996.95,"w":75.59},{"s":"Reg","t":1997.02,"w":75.7},{"s":"Reg","t":1997.14,"w":75.74},{"s":"Reg","t":1997.3,"w":75.79},
{"s":"Reg","t":1997.36,"w":75.77},{"s":"Reg","t":1997.47,"w":75.9},{"s":"Reg","t":1997.54,"w":75.98},{"s":"Reg","t":1997.59,"w":75.92},
{"s":"Reg","t":1997.67,"w":75.73},{"s":"Reg","t":1997.75,"w":75.56},{"s":"Reg","t":1997.82,"w":75.47},{"s":"Reg","t":1997.94,"w":75.37},
{"s":"Reg","t":1998.05,"w":75.33},{"s":"Reg","t":1998.25,"w":75.33},{"s":"Reg","t":1998.33,"w":75.35},{"s":"Reg","t":1998.39,"w":75.51},
{"s":"Reg","t":1998.47,"w":75.73},{"s":"Reg","t":1998.55,"w":75.96},{"s":"Reg","t":1998.61,"w":76.16},{"s":"Reg","t":1998.67,"w":76.29},
{"s":"Reg","t":1998.82,"w":76.13},{"s":"Reg","t":1998.97,"w":76.21},{"s":"Reg","t":1999.2,"w":76.16},{"s":"Reg","t":1999.28,"w":76.03},
{"s":"Reg","t":1999.39,"w":76.13},{"s":"Reg","t":1999.5,"w":76.19},{"s":"Reg","t":1999.59,"w":76.06},{"s":"Reg","t":1999.65,"w":75.92},
{"s":"Reg","t":1999.73,"w":75.74},{"s":"Reg","t":1999.77,"w":75.63},{"s":"Reg","t":1999.85,"w":75.5},{"s":"Reg","t":1999.91,"w":75.38},
{"s":"Reg","t":1999.96,"w":75.37},{"s":"Reg","t":2000.08,"w":75.43},{"s":"Reg","t":2000.27,"w":75.47},{"s":"Reg","t":2000.31,"w":75.53},
{"s":"Reg","t":2000.39,"w":75.7},{"s":"Reg","t":2000.5,"w":75.87},{"s":"Reg","t":2000.57,"w":75.99},{"s":"Reg","t":2000.65,"w":75.9},
{"s":"Reg","t":2000.73,"w":75.77},{"s":"Reg","t":2000.8,"w":75.6},{"s":"Reg","t":2000.91,"w":75.66},{"s":"Reg","t":2000.99,"w":75.79},
{"s":"Reg","t":2001.07,"w":75.86},{"s":"Reg","t":2001.19,"w":75.95},{"s":"Reg","t":2001.3,"w":76.02},{"s":"Reg","t":2001.37,"w":76.11},
{"s":"Reg","t":2001.45,"w":76.21},{"s":"Reg","t":2001.49,"w":76.26},{"s":"Reg","t":2001.57,"w":76.13},{"s":"Reg","t":2001.65,"w":75.99},
{"s":"Reg","t":2001.71,"w":75.82},{"s":"Reg","t":2001.79,"w":75.61},{"s":"Reg","t":2001.87,"w":75.51},{"s":"Reg","t":2001.99,"w":75.4},
{"s":"Nat","t":1991,"w":75.12},{"s":"Nat","t":1991.07,"w":75.07},{"s":"Nat","t":1991.15,"w":75.04},{"s":"Nat","t":1991.23,"w":75.04},
{"s":"Nat","t":1991.3,"w":75.14},{"s":"Nat","t":1991.38,"w":75.27},{"s":"Nat","t":1991.43,"w":75.38},{"s":"Nat","t":1991.49,"w":75.53},
{"s":"Nat","t":1991.53,"w":75.64},{"s":"Nat","t":1991.57,"w":75.73},{"s":"Nat","t":1991.69,"w":75.79},{"s":"Nat","t":1991.8,"w":75.82},
{"s":"Nat","t":1991.84,"w":75.83},{"s":"Nat","t":1991.92,"w":75.98},{"s":"Nat","t":1991.98,"w":76.12},{"s":"Nat","t":1992.14,"w":76.13},
{"s":"Nat","t":1992.26,"w":76.18},{"s":"Nat","t":1992.33,"w":76.25},{"s":"Nat","t":1992.37,"w":76.44},{"s":"Nat","t":1992.42,"w":76.42},
{"s":"Nat","t":1992.49,"w":76.31},{"s":"Nat","t":1992.6,"w":76.12},{"s":"Nat","t":1992.75,"w":76},{"s":"Nat","t":1992.95,"w":76.02},
{"s":"Nat","t":1993.13,"w":76.06},{"s":"Nat","t":1993.32,"w":75.99},{"s":"Nat","t":1993.55,"w":76.16},{"s":"Nat","t":1993.67,"w":76.18},
{"s":"Nat","t":1993.78,"w":76.02},{"s":"Nat","t":1993.98,"w":75.87},{"s":"Nat","t":1994.12,"w":75.79},{"s":"Nat","t":1994.24,"w":75.69},
{"s":"Nat","t":1994.32,"w":75.73},{"s":"Nat","t":1994.39,"w":76.02},{"s":"Nat","t":1994.5,"w":76.21},{"s":"Nat","t":1994.58,"w":76.12},
{"s":"Nat","t":1994.66,"w":75.95},{"s":"Nat","t":1994.72,"w":75.85},{"s":"Nat","t":1994.78,"w":75.96},{"s":"Nat","t":1994.85,"w":76.02},
{"s":"Nat","t":1994.93,"w":76.08},{"s":"Nat","t":1995.08,"w":76.09},{"s":"Nat","t":1995.19,"w":76.11},{"s":"Nat","t":1995.27,"w":76.12},
{"s":"Nat","t":1995.33,"w":76.16},{"s":"Nat","t":1995.38,"w":76.31},{"s":"Nat","t":1995.44,"w":76.42},{"s":"Nat","t":1995.46,"w":76.54},
{"s":"Nat","t":1995.52,"w":76.49},{"s":"Nat","t":1995.58,"w":76.45},{"s":"Nat","t":1995.65,"w":76.38},{"s":"Nat","t":1995.69,"w":76.24},
{"s":"Nat","t":1995.76,"w":76.05},{"s":"Nat","t":1995.84,"w":75.9},{"s":"Nat","t":1995.92,"w":75.8},{"s":"Nat","t":1996.04,"w":75.69},
{"s":"Nat","t":1996.15,"w":75.56},{"s":"Nat","t":1996.27,"w":75.46},{"s":"Nat","t":1996.3,"w":75.43},{"s":"Nat","t":1996.41,"w":75.54},
{"s":"Nat","t":1996.53,"w":75.7},{"s":"Nat","t":1996.61,"w":75.88},{"s":"Nat","t":1996.68,"w":75.82},{"s":"Nat","t":1996.76,"w":75.67},
{"s":"Nat","t":1996.84,"w":75.53},{"s":"Nat","t":1996.9,"w":75.47},{"s":"Nat","t":1996.95,"w":75.59},{"s":"Nat","t":1997.02,"w":75.7},
{"s":"Nat","t":1997.14,"w":75.74},{"s":"Nat","t":1997.3,"w":75.79},{"s":"Nat","t":1997.36,"w":75.77},{"s":"Nat","t":1997.47,"w":75.9},
{"s":"Nat","t":1997.54,"w":75.98},{"s":"Nat","t":1997.59,"w":75.92},{"s":"Nat","t":1997.67,"w":75.73},{"s":"Nat","t":1997.75,"w":75.56},
{"s":"Nat","t":1997.82,"w":75.47},{"s":"Nat","t":1997.94,"w":75.37},{"s":"Nat","t":1998.05,"w":75.33},{"s":"Nat","t":1998.25,"w":75.33},
{"s":"Nat","t":1998.33,"w":75.35},{"s":"Nat","t":1998.39,"w":75.51},{"s":"Nat","t":1998.47,"w":75.73},{"s":"Nat","t":1998.55,"w":75.96},
{"s":"Nat","t":1998.61,"w":76.16},{"s":"Nat","t":1998.65,"w":76.28},{"s":"Nat","t":1998.7,"w":76.22},{"s":"Nat","t":1998.78,"w":76.21},
{"s":"Nat","t":1998.85,"w":76.31},{"s":"Nat","t":1999.01,"w":76.28},{"s":"Nat","t":1999.2,"w":76.22},{"s":"Nat","t":1999.28,"w":76.12},
{"s":"Nat","t":1999.36,"w":76.21},{"s":"Nat","t":1999.5,"w":76.19},{"s":"Nat","t":1999.59,"w":76.06},{"s":"Nat","t":1999.65,"w":75.92},
{"s":"Nat","t":1999.73,"w":75.74},{"s":"Nat","t":1999.77,"w":75.63},{"s":"Nat","t":1999.85,"w":75.5},{"s":"Nat","t":1999.91,"w":75.38},
{"s":"Nat","t":1999.94,"w":75.28},{"s":"Nat","t":2000.04,"w":75.34},{"s":"Nat","t":2000.23,"w":75.41},{"s":"Nat","t":2000.31,"w":75.53},
{"s":"Nat","t":2000.39,"w":75.7},{"s":"Nat","t":2000.5,"w":75.87},{"s":"Nat","t":2000.57,"w":75.99},{"s":"Nat","t":2000.65,"w":75.9},
{"s":"Nat","t":2000.73,"w":75.77},{"s":"Nat","t":2000.8,"w":75.6},{"s":"Nat","t":2000.91,"w":75.66},{"s":"Nat","t":2000.99,"w":75.79},
{"s":"Nat","t":2001.07,"w":75.86},{"s":"Nat","t":2001.19,"w":75.95},{"s":"Nat","t":2001.3,"w":76.02},{"s":"Nat","t":2001.37,"w":76.11},
{"s":"Nat","t":2001.45,"w":76.21},{"s":"Nat","t":2001.49,"w":76.26},{"s":"Nat","t":2001.57,"w":76.13},{"s":"Nat","t":2001.65,"w":75.99},
{"s":"Nat","t":2001.71,"w":75.82},{"s":"Nat","t":2001.79,"w":75.61},{"s":"Nat","t":2001.87,"w":75.51},{"s":"Nat","t":2001.99,"w":75.4},
{"s":"RegLead","t":1991.435,"w":76.01},{"s":"RegLead","t":1991.63,"w":76.06},
{"s":"NatLead","t":1991.55,"w":75.6},{"s":"NatLead","t":1991.7,"w":75.56}
],
"lab": [
{"label":"HW","t":1992.786,"w":77.69},
{"label":"MW + 0,5","t":1993.335,"w":76.45},
{"label":"Reg","t":1991.16,"w":76.0},
{"label":"Nat.","t":1991.95,"w":75.59},
{"label":"MW","t":1992.69,"w":75.635},
{"label":"MW - 0,5","t":1992.76,"w":75.03},
{"label":"NW","t":1992.59,"w":74.75}
]
},
"encoding": {
"x": {"field": "t", "type": "quantitative",
"scale": {"domain": [1990.92, 2002.09], "nice": false, "zero": false},
"axis": {"values": [1991,1992,1993,1994,1995,1996,1997,1998,1999,2000,2001,2002], "format": "d",
"labelExpr": "datum.value >= 2002 ? '' : datum.label", "title": null, "grid": true,
"gridColor": "#222", "gridWidth": 1.7, "tickSize": 11, "tickColor": "#222", "tickWidth": 1.7,
"domain": false, "labelFont": "Liberation Sans", "labelFontSize": 25, "labelFontStyle": "italic",
"labelColor": "#111", "labelPadding": 16, "labelFlush": false, "labelOverlap": false}}
},
"layer": [
{
"data": {"name": "per"},
"transform": [{"fold": ["HW", "MW", "NW", "MWp", "MWm"], "as": ["s", "w"]}],
"encoding": {
"y": {"field": "w", "type": "quantitative",
"scale": {"domain": [74.248, 77.852], "nice": false, "zero": false},
"axis": {"values": [74.3,74.8,75.3,75.8,76.3,76.8,77.3,77.8], "format": ".1f",
"title": "W(m)", "titleAngle": 0, "titleAlign": "left", "titleBaseline": "alphabetic",
"titleX": -80, "titleY": -10, "titleFont": "Liberation Sans", "titleFontSize": 24,
"titleFontStyle": "italic", "titleFontWeight": "normal", "titleColor": "#111",
"grid": true, "gridColor": "#222", "gridWidth": 1.7, "tickSize": 10, "tickColor": "#222", "tickWidth": 1.7,
"domain": false, "labelFont": "Liberation Sans", "labelFontSize": 26, "labelFontStyle": "italic",
"labelColor": "#111", "labelPadding": 7, "labelFlush": false, "labelOverlap": false}}
},
"layer": [
{"transform": [{"filter": "datum.s === 'HW'"}], "mark": {"type": "line", "color": "#000", "strokeWidth": 3}},
{"transform": [{"filter": "datum.s === 'NW'"}], "mark": {"type": "line", "color": "#000", "strokeWidth": 3}},
{"transform": [{"filter": "datum.s === 'MW'"}], "mark": {"type": "line", "color": "#000", "strokeWidth": 2.2}},
{"transform": [{"filter": "datum.s === 'MWp'"}], "mark": {"type": "line", "color": "#000", "strokeWidth": 8, "strokeDash": [18, 13], "strokeCap": "butt"}},
{"transform": [{"filter": "datum.s === 'MWm'"}], "mark": {"type": "line", "color": "#000", "strokeWidth": 8, "strokeDash": [18, 13], "strokeCap": "butt"}},
{"data": {"name": "obs"}, "transform": [{"filter": "datum.s === 'Reg'"}], "mark": {"type": "line", "color": "#ff1010", "strokeWidth": 3}},
{"data": {"name": "obs"}, "transform": [{"filter": "datum.s === 'Nat'"}], "mark": {"type": "line", "color": "#1414ff", "strokeWidth": 6, "strokeDash": [11, 4], "strokeCap": "butt"}},
{"data": {"name": "obs"}, "transform": [{"filter": "datum.s === 'RegLead'"}], "mark": {"type": "line", "color": "#ff1010", "strokeWidth": 1.2}},
{"data": {"name": "obs"}, "transform": [{"filter": "datum.s === 'NatLead'"}], "mark": {"type": "line", "color": "#000", "strokeWidth": 1.2}},
{"data": {"name": "lab"}, "mark": {"type": "text", "font": "Liberation Sans", "fontSize": 25, "color": "#000", "align": "center", "baseline": "middle"},
"encoding": {"text": {"field": "label"}}}
]
},
{
"data": {"name": "lab"},
"mark": {"type": "point", "opacity": 0},
"encoding": {
"y": {"field": "w", "type": "quantitative",
"scale": {"domain": [74.248, 77.852], "nice": false, "zero": false},
"axis": {"orient": "right", "values": [74.3,74.8,75.3,75.8,76.3,76.8,77.3,77.8],
"labelExpr": "datum.value > 77.7 ? '1244' : datum.value > 77.2 ? '1070' : datum.value > 76.7 ? '900' : datum.value > 76.2 ? '740' : datum.value > 75.7 ? '591' : datum.value > 75.2 ? '452' : datum.value > 74.7 ? '324' : '218'",
"grid": false, "tickSize": 9, "tickColor": "#222", "tickWidth": 1.7, "domain": false,
"labelFont": "Liberation Sans", "labelFontSize": 24, "labelFontStyle": "italic", "labelColor": "#111",
"labelPadding": 16, "labelFlush": false, "labelOverlap": false,
"title": "Qₙₐₜ(m³/s)", "titleAngle": 0, "titleAlign": "left", "titleBaseline": "alphabetic",
"titleX": 19, "titleY": -11, "titleFont": "Liberation Sans", "titleFontSize": 23,
"titleFontWeight": "normal", "titleColor": "#111"}}
}
}
],
"resolve": {"scale": {"y": "independent"}}
}
